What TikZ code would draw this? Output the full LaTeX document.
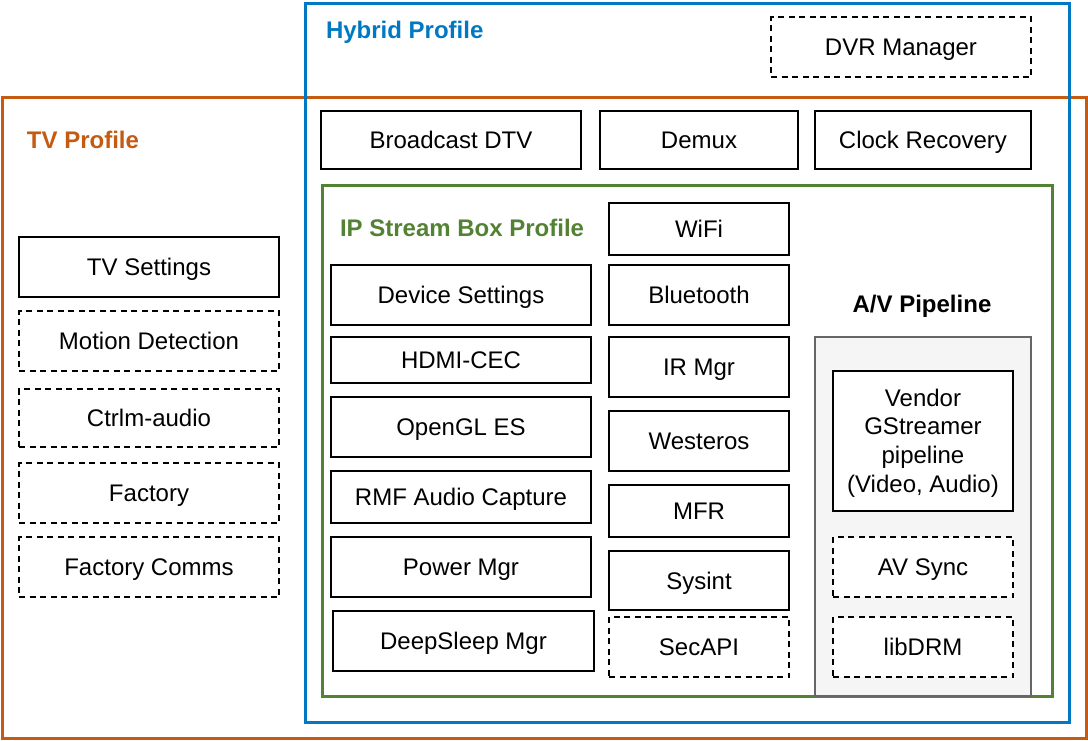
\documentclass[tikz,border=0pt]{standalone}
\usepackage{fontspec}
\setmainfont{Liberation Sans}
\definecolor{tvor}{HTML}{C55A11}
\definecolor{hyb}{HTML}{0079C2}
\definecolor{ipg}{HTML}{548235}
\definecolor{avfill}{HTML}{F5F5F5}
\definecolor{avline}{HTML}{666666}
\newcommand\bodyfont{\fontsize{24}{28.8}\selectfont}
\begin{document}
\begin{tikzpicture}[x=1pt,y=-1pt,
  every node/.style={inner sep=0pt, outer sep=0pt},
  txt/.style={text height=17.2pt, text depth=0pt},
  plainbox/.style={draw=black, line width=2pt, fill=white, align=center, font=\bodyfont},
  box/.style={plainbox, txt},
  dbox/.style={box, dash pattern=on 6pt off 4.5pt},
  frame/.style={draw, line width=3pt},
  title/.style={anchor=west, font=\bodyfont\bfseries, txt}]
\useasboundingbox (0,0) rectangle (1088,740);
% containers
\node[frame, draw=tvor, minimum width=1084pt, minimum height=641pt] (tv) at (544,417.5) {};
\node[frame, draw=hyb, minimum width=764pt, minimum height=719pt] (hybrid) at (687,362.5) {};
\node[frame, draw=ipg, minimum width=730pt, minimum height=511pt] (ip) at (687,440.5) {};
\node[draw=avline, fill=avfill, line width=1.5pt, minimum width=216pt, minimum height=359pt] (av) at (923,516.5) {};
% titles
\node[title, text=hyb] (thyb) at (326,30) {Hybrid Profile};
\node[title, text=tvor] (ttv) at (27,140) {TV Profile};
\node[title, text=ipg] (tip) at (340,228) {IP Stream Box Profile};
\node[font=\bodyfont\bfseries, txt] (tav) at (922,304) {A/V Pipeline};
% hybrid row
\node[dbox, minimum width=260pt, minimum height=60pt] (dvr) at (901,47) {DVR Manager};
\node[box, minimum width=260pt, minimum height=58pt] (bdtv) at (451,140) {Broadcast DTV};
\node[box, minimum width=198pt, minimum height=58pt] (demux) at (699,140) {Demux};
\node[box, minimum width=216pt, minimum height=58pt] (clock) at (923,140) {Clock Recovery};
% TV column
\node[box, minimum width=260pt, minimum height=60pt] (tvset) at (149,267) {TV Settings};
\node[dbox, minimum width=260pt, minimum height=60pt] (motion) at (149,341) {Motion Detection};
\node[dbox, minimum width=260pt, minimum height=58pt] (ctrlm) at (149,418) {Ctrlm-audio};
\node[dbox, minimum width=260pt, minimum height=60pt] (factory) at (149,493) {Factory};
\node[dbox, minimum width=260pt, minimum height=60pt] (fcomms) at (149,567) {Factory Comms};
% IP left column
\node[box, minimum width=260pt, minimum height=60pt] (devset) at (461,295) {Device Settings};
\node[box, minimum width=260pt, minimum height=46pt] (hdmi) at (461,360) {HDMI-CEC};
\node[box, minimum width=260pt, minimum height=60pt] (opengl) at (461,427) {OpenGL ES};
\node[box, minimum width=260pt, minimum height=52pt] (rmf) at (461,497) {RMF Audio Capture};
\node[box, minimum width=260pt, minimum height=60pt] (power) at (461,567) {Power Mgr};
\node[box, minimum width=261pt, minimum height=60pt] (deep) at (463.5,641) {DeepSleep Mgr};
% IP middle column
\node[box, minimum width=180pt, minimum height=52pt] (wifi) at (699,229) {WiFi};
\node[box, minimum width=180pt, minimum height=60pt] (bt) at (699,295) {Bluetooth};
\node[box, minimum width=180pt, minimum height=60pt] (irmgr) at (699,367) {IR Mgr};
\node[box, minimum width=180pt, minimum height=60pt] (west) at (699,441) {Westeros};
\node[box, minimum width=180pt, minimum height=52pt] (mfr) at (699,511) {MFR};
\node[box, minimum width=180pt, minimum height=59pt] (sysint) at (699,580.5) {Sysint};
\node[dbox, minimum width=180pt, minimum height=60pt] (secapi) at (699,647) {SecAPI};
% AV pipeline
\node[draw=black, line width=2pt, fill=white, minimum width=180pt, minimum height=140pt] (vendor) at (923,441) {};
\node[align=center, font=\bodyfont] (vendortext) at (923,443) {Vendor\\GStreamer\\pipeline\\(Video, Audio)};
\node[dbox, minimum width=180pt, minimum height=60pt] (avsync) at (923,567) {AV Sync};
\node[dbox, minimum width=180pt, minimum height=60pt] (libdrm) at (923,647) {libDRM};
\end{tikzpicture}
\end{document}
